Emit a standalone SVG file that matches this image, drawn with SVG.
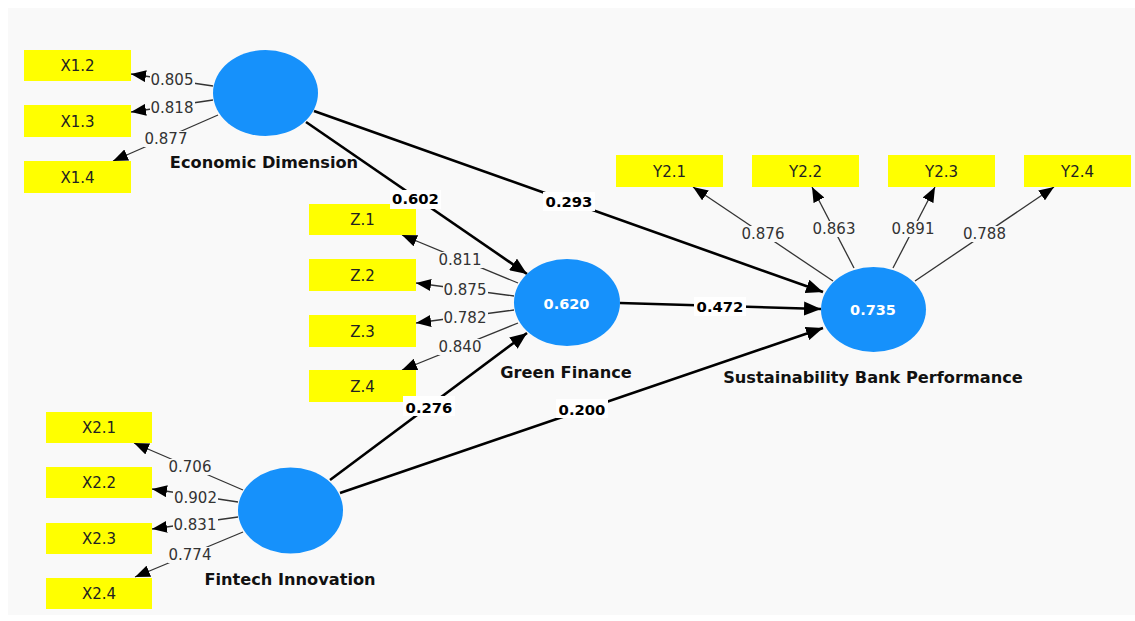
<svg xmlns="http://www.w3.org/2000/svg" width="1135" height="621" viewBox="0 0 1135 621">
<style>
.ind{fill:#ffff00}
.it{font-family:"DejaVu Sans",sans-serif;font-size:15px;fill:#222;text-anchor:middle}
.lv{fill:#1691fb}
.lvv{font-family:"DejaVu Sans",sans-serif;font-size:14.5px;font-weight:bold;fill:#fff;text-anchor:middle}
.nm{font-family:"DejaVu Sans",sans-serif;font-size:16.2px;font-weight:bold;fill:#111;text-anchor:middle}
.ld{stroke:#333;stroke-width:1.3;fill:none}
.pt{stroke:#000;stroke-width:2.6;fill:none}
.lt{font-family:"DejaVu Sans",sans-serif;font-size:15px;fill:#333;text-anchor:middle}
.pl{font-family:"DejaVu Sans",sans-serif;font-size:14.8px;font-weight:bold;fill:#000;text-anchor:middle}
.lb{fill:#f9f9f9}
.pb{fill:#ffffff}
</style>
<defs>
<marker id="ah" markerUnits="userSpaceOnUse" markerWidth="16" markerHeight="12" refX="15" refY="6" orient="auto">
<path d="M0,0 L15,6 L0,12 z" fill="#000"/>
</marker>
<marker id="ahp" markerUnits="userSpaceOnUse" markerWidth="18" markerHeight="14" refX="17" refY="7" orient="auto">
<path d="M0,0 L17,7 L0,14 z" fill="#000"/>
</marker>
</defs>
<rect x="0" y="0" width="1135" height="621" fill="#ffffff"/>
<rect x="8" y="8" width="1127" height="607" fill="#f9f9f9"/>

<g id="connectors">
<line class="ld" x1="213" y1="86" x2="131" y2="74" marker-end="url(#ah)"/>
<line class="ld" x1="213" y1="100" x2="131" y2="112" marker-end="url(#ah)"/>
<line class="ld" x1="218" y1="115" x2="113" y2="161" marker-end="url(#ah)"/>
<line class="ld" x1="518" y1="283" x2="402" y2="235" marker-end="url(#ah)"/>
<line class="ld" x1="514" y1="296" x2="416" y2="283" marker-end="url(#ah)"/>
<line class="ld" x1="514" y1="310" x2="416" y2="323" marker-end="url(#ah)"/>
<line class="ld" x1="518" y1="323" x2="402" y2="370" marker-end="url(#ah)"/>
<line class="ld" x1="833" y1="281" x2="693" y2="187" marker-end="url(#ah)"/>
<line class="ld" x1="854" y1="268" x2="812" y2="187" marker-end="url(#ah)"/>
<line class="ld" x1="893" y1="268" x2="935" y2="187" marker-end="url(#ah)"/>
<line class="ld" x1="915" y1="281" x2="1054" y2="187" marker-end="url(#ah)"/>
<line class="ld" x1="243" y1="490" x2="134" y2="443" marker-end="url(#ah)"/>
<line class="ld" x1="238" y1="502" x2="152" y2="489" marker-end="url(#ah)"/>
<line class="ld" x1="238" y1="517" x2="152" y2="529" marker-end="url(#ah)"/>
<line class="ld" x1="243" y1="532" x2="135" y2="577" marker-end="url(#ah)"/>
<line class="pt" x1="306" y1="122" x2="527" y2="274" marker-end="url(#ahp)"/>
<line class="pt" x1="314" y1="111" x2="823" y2="292" marker-end="url(#ahp)"/>
<line class="pt" x1="620" y1="303" x2="821" y2="309" marker-end="url(#ahp)"/>
<line class="pt" x1="330" y1="480" x2="527" y2="333" marker-end="url(#ahp)"/>
<line class="pt" x1="340" y1="493" x2="823" y2="328" marker-end="url(#ahp)"/>
</g>

<g id="n-X1.2"><rect class="ind" x="24" y="50" width="107" height="31"/><text class="it" x="77.5" y="71">X1.2</text></g>
<g id="n-X1.3"><rect class="ind" x="24" y="105" width="107" height="32"/><text class="it" x="77.5" y="126.5">X1.3</text></g>
<g id="n-X1.4"><rect class="ind" x="24" y="161" width="107" height="32"/><text class="it" x="77.5" y="182.5">X1.4</text></g>
<g id="n-Z.1"><rect class="ind" x="309" y="204" width="107" height="31"/><text class="it" x="362.5" y="225">Z.1</text></g>
<g id="n-Z.2"><rect class="ind" x="309" y="259" width="107" height="32"/><text class="it" x="362.5" y="280.5">Z.2</text></g>
<g id="n-Z.3"><rect class="ind" x="309" y="315" width="107" height="32"/><text class="it" x="362.5" y="336.5">Z.3</text></g>
<g id="n-Z.4"><rect class="ind" x="309" y="370" width="107" height="32"/><text class="it" x="362.5" y="391.5">Z.4</text></g>
<g id="n-Y2.1"><rect class="ind" x="616" y="155" width="107" height="32"/><text class="it" x="669.5" y="176.5">Y2.1</text></g>
<g id="n-Y2.2"><rect class="ind" x="752" y="155" width="107" height="32"/><text class="it" x="805.5" y="176.5">Y2.2</text></g>
<g id="n-Y2.3"><rect class="ind" x="888" y="155" width="107" height="32"/><text class="it" x="941.5" y="176.5">Y2.3</text></g>
<g id="n-Y2.4"><rect class="ind" x="1024" y="155" width="107" height="32"/><text class="it" x="1077.5" y="176.5">Y2.4</text></g>
<g id="n-X2.1"><rect class="ind" x="46" y="412" width="106" height="31"/><text class="it" x="99" y="433">X2.1</text></g>
<g id="n-X2.2"><rect class="ind" x="46" y="467" width="106" height="31"/><text class="it" x="99" y="488">X2.2</text></g>
<g id="n-X2.3"><rect class="ind" x="46" y="523" width="106" height="31"/><text class="it" x="99" y="544">X2.3</text></g>
<g id="n-X2.4"><rect class="ind" x="46" y="578" width="106" height="31"/><text class="it" x="99" y="599">X2.4</text></g>

<g id="n-ED"><ellipse class="lv" cx="265.5" cy="93" rx="52.5" ry="43"/><text class="nm" x="264" y="168">Economic Dimension</text></g>
<g id="n-GF"><ellipse class="lv" cx="567" cy="302.5" rx="53" ry="43.5"/><text class="lvv" x="566.5" y="309">0.620</text><text class="nm" x="566" y="378">Green Finance</text></g>
<g id="n-SBP"><ellipse class="lv" cx="873.5" cy="309.5" rx="52.5" ry="42.5"/><text class="lvv" x="873" y="315">0.735</text><text class="nm" x="873" y="383">Sustainability Bank Performance</text></g>
<g id="n-FI"><ellipse class="lv" cx="290.5" cy="510.5" rx="52.5" ry="43"/><text class="nm" x="290" y="585">Fintech Innovation</text></g>

<g id="labels">
<rect class="lb" x="150" y="72" width="45" height="16"/><text class="lt" x="172" y="85">0.805</text>
<rect class="lb" x="150" y="100" width="45" height="16"/><text class="lt" x="172" y="113">0.818</text>
<rect class="lb" x="144" y="131" width="45" height="16"/><text class="lt" x="166" y="144">0.877</text>
<rect class="lb" x="438" y="252" width="45" height="16"/><text class="lt" x="460" y="265">0.811</text>
<rect class="lb" x="443" y="282" width="45" height="16"/><text class="lt" x="465" y="295">0.875</text>
<rect class="lb" x="443" y="310" width="45" height="16"/><text class="lt" x="465" y="323">0.782</text>
<rect class="lb" x="438" y="339" width="45" height="16"/><text class="lt" x="460" y="352">0.840</text>
<rect class="lb" x="741" y="226" width="45" height="16"/><text class="lt" x="763" y="239">0.876</text>
<rect class="lb" x="812" y="221" width="45" height="16"/><text class="lt" x="834" y="234">0.863</text>
<rect class="lb" x="891" y="221" width="45" height="16"/><text class="lt" x="913" y="234">0.891</text>
<rect class="lb" x="962" y="226" width="45" height="16"/><text class="lt" x="984.5" y="239">0.788</text>
<rect class="lb" x="168" y="459" width="45" height="16"/><text class="lt" x="190" y="472">0.706</text>
<rect class="lb" x="173" y="490" width="45" height="16"/><text class="lt" x="195.5" y="503">0.902</text>
<rect class="lb" x="173" y="517" width="45" height="16"/><text class="lt" x="195" y="530">0.831</text>
<rect class="lb" x="168" y="547" width="45" height="16"/><text class="lt" x="190" y="560">0.774</text>
<rect class="pb" x="390" y="190" width="51" height="19"/><text class="pl" x="415.5" y="204">0.602</text>
<rect class="pb" x="543" y="192" width="52" height="19"/><text class="pl" x="569" y="207">0.293</text>
<rect class="pb" x="403" y="396" width="52" height="20"/><text class="pl" x="429" y="413">0.276</text>
<rect class="pb" x="556" y="399" width="52" height="19"/><text class="pl" x="582" y="415">0.200</text>
<rect class="pb" x="694" y="297" width="52" height="19"/><text class="pl" x="720" y="312">0.472</text>
</g>
</svg>
